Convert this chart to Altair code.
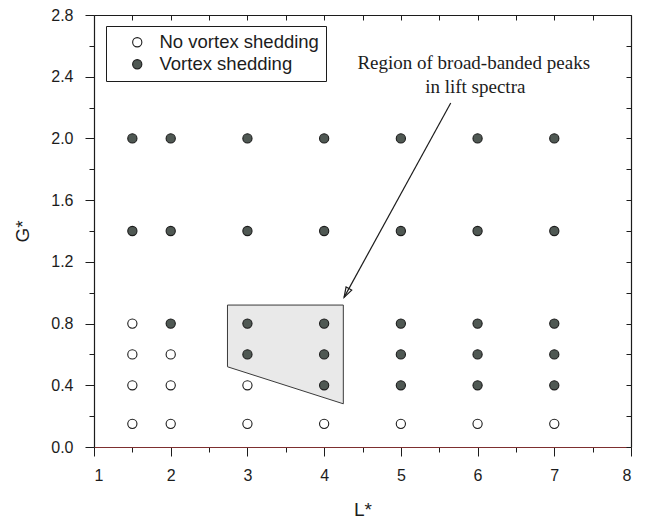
import altair as alt
import pandas as pd

# ---------------- data ----------------
categories = ["No vortex shedding", "Vortex shedding"]

open_L = [1.5, 1.5, 1.5, 1.5, 2, 2, 2, 3, 3, 4, 5, 6, 7]
open_G = [0.15, 0.4, 0.6, 0.8, 0.15, 0.4, 0.6, 0.15, 0.4, 0.15, 0.15, 0.15, 0.15]

shed_L = [1.5, 1.5,
          2, 2, 2,
          3, 3, 3, 3,
          4, 4, 4, 4, 4,
          5, 5, 5, 5, 5,
          6, 6, 6, 6, 6,
          7, 7, 7, 7, 7]
shed_G = [1.4, 2.0,
          0.8, 1.4, 2.0,
          0.6, 0.8, 1.4, 2.0,
          0.4, 0.6, 0.8, 1.4, 2.0,
          0.4, 0.6, 0.8, 1.4, 2.0,
          0.4, 0.6, 0.8, 1.4, 2.0,
          0.4, 0.6, 0.8, 1.4, 2.0]

# shaded region (broad-banded peaks)
region_L = [2.74, 4.25]
region_G_low = [0.52, 0.28]
region_G_high = [0.92, 0.92]

# arrow: start (near text) -> tip (at region)
arrow_L = [5.65, 4.26]
arrow_G = [2.23, 0.97]
arrow_angle = [208.6]

# annotation text
note_lines = ["Region of broad-banded peaks", "in lift spectra"]
note_L = [5.95, 5.97]
note_G = [2.486, 2.335]

# axis ticks
x_major = [1, 2, 3, 4, 5, 6, 7, 8]
x_minor = [1.5, 2.5, 3.5, 4.5, 5.5, 6.5, 7.5]
x_halves = [1, 1.5, 2, 2.5, 3, 3.5, 4, 4.5, 5, 5.5, 6, 6.5, 7, 7.5, 8]
y_major = [0.0, 0.4, 0.8, 1.2, 1.6, 2.0, 2.4, 2.8]
y_minor = [0.2, 0.6, 1.0, 1.4, 1.8, 2.2, 2.6]
y_all = [0.0, 0.2, 0.4, 0.6, 0.8, 1.0, 1.2, 1.4, 1.6, 1.8, 2.0, 2.2, 2.4, 2.6, 2.8]

# ---------------- tables ----------------
df_pts = pd.DataFrame({
    "L": open_L + shed_L,
    "G": open_G + shed_G,
    "kind": [categories[0]] * len(open_L) + [categories[1]] * len(shed_L),
})
df_region = pd.DataFrame({"L": region_L, "lo": region_G_low, "hi": region_G_high})
df_arrow = pd.DataFrame({"L1": [arrow_L[0]], "G1": [arrow_G[0]],
                         "L2": [arrow_L[1]], "G2": [arrow_G[1]]})
df_head = pd.DataFrame({"L": [arrow_L[1]], "G": [arrow_G[1]], "ang": arrow_angle})
df_note = pd.DataFrame({"L": note_L, "G": note_G, "t": note_lines})

W, H = 537, 432
xs = alt.Scale(domain=[1, 8], nice=False, zero=False)
ys = alt.Scale(domain=[0, 2.8], nice=False, zero=False)
INK = "#1c1c1c"

region = alt.Chart(df_region).mark_area(
    fill="#e9e9e9", stroke="#3a3a3a", strokeWidth=1, opacity=1
).encode(
    x=alt.X("L:Q", scale=xs, axis=alt.Axis(orient="bottom", values=x_minor, tickSize=5,
                                            labels=False, domain=False, title=None)),
    y=alt.Y("lo:Q", scale=ys, axis=alt.Axis(orient="left", values=y_minor, tickSize=5,
                                             labels=False, domain=False, title=None)),
    y2="hi:Q",
)

points = alt.Chart(df_pts).mark_point(
    filled=True, shape="circle", size=85, stroke=INK, strokeWidth=1.1, opacity=1
).encode(
    x=alt.X("L:Q", scale=xs, axis=alt.Axis(
        orient="bottom", values=x_major, tickSize=9, labelPadding=11, format="d",
        title="L*", titleY=68, titleBaseline="alphabetic", domainColor="#7d2f2f")),
    y=alt.Y("G:Q", scale=ys, axis=alt.Axis(
        orient="left", values=y_major, tickSize=9, labelPadding=12, format=".1f",
        title="G*", titleX=-66, titleY=H / 2, titleAngle=270, titleAlign="center",
        titleBaseline="alphabetic")),
    fill=alt.Fill("kind:N", scale=alt.Scale(domain=categories, range=["#ffffff", "#4f5853"]),
                  legend=alt.Legend(
                      title=None, orient="none", legendX=12, legendY=11,
                      strokeColor=INK, fillColor="#ffffff", padding=7,
                      labelFont="Liberation Sans", labelFontSize=18.5, labelColor=INK,
                      symbolType="circle", symbolSize=85, symbolStrokeColor=INK,
                      symbolStrokeWidth=1.1, symbolOffset=15, labelOffset=13,
                      rowPadding=3)),
)

arrow = alt.Chart(df_arrow).mark_rule(stroke=INK, strokeWidth=1.2).encode(
    x=alt.X("L1:Q", scale=xs, axis=alt.Axis(orient="bottom", offset=-H, values=x_halves,
                                             tickSize=5, labels=False, title=None)),
    y=alt.Y("G1:Q", scale=ys, axis=alt.Axis(orient="left", offset=-W, values=y_all,
                                             tickSize=5, labels=False, title=None)),
    x2="L2:Q",
    y2="G2:Q",
)

head = alt.Chart(df_head).mark_point(
    shape="M0,0L-0.32,1L0.32,1Z", size=400, filled=False, stroke=INK, strokeWidth=1.2, opacity=1
).encode(
    x=alt.X("L:Q", scale=xs, axis=None),
    y=alt.Y("G:Q", scale=ys, axis=None),
    angle=alt.Angle("ang:Q", scale=None),
)

note = alt.Chart(df_note).mark_text(
    font="Liberation Serif", fontSize=19, color=INK, align="center", baseline="middle"
).encode(
    x=alt.X("L:Q", scale=xs, axis=None),
    y=alt.Y("G:Q", scale=ys, axis=None),
    text="t:N",
)

chart = alt.layer(region, points, arrow, head, note).resolve_axis(
    x="independent", y="independent"
).properties(
    width=W, height=H,
    autosize=alt.AutoSizeParams(type="none"),
    padding={"left": 86, "top": 7, "right": 5, "bottom": 75},
    background="#ffffff",
).configure_view(stroke=None).configure_axis(
    grid=False,
    labelFont="Liberation Sans", labelFontSize=16, labelColor=INK,
    titleFont="Liberation Sans", titleFontSize=19, titleFontWeight="normal", titleColor=INK,
    tickColor=INK, domainColor=INK, tickWidth=1, domainWidth=1.2,
)

chart.save("out.html", embed_options={"renderer": "svg", "actions": False})
